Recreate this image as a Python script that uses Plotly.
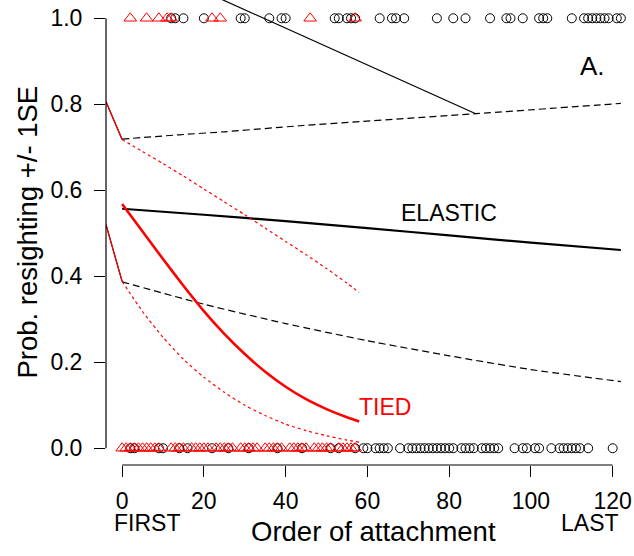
import plotly.graph_objects as go

# ---------------- data ----------------
x_ticks = [0, 20, 40, 60, 80, 100, 120]
y_ticks = [0.0, 0.2, 0.4, 0.6, 0.8, 1.0]
y_tick_text = ["0.0", "0.2", "0.4", "0.6", "0.8", "1.0"]

# observed resightings (1 = resighted, 0 = not)
tied_seen = [2, 6, 9, 11, 12, 22, 24, 46, 57]
tied_missed = [0, 1, 2, 3, 4, 5, 6, 7, 8, 9, 12, 13, 14, 15, 17, 18, 19, 20, 21, 23, 24,
               25, 26, 27, 29, 30, 31, 32, 33, 35, 36, 37, 38, 39, 41, 42, 43, 44, 45,
               47, 48, 49, 50, 51, 53, 54, 55, 56, 57]
elastic_seen = [12, 13, 15, 20, 29, 30, 36, 39, 40, 52, 53, 55, 56, 57, 63, 66, 67, 69,
                77, 81, 84, 90, 94, 95, 98, 102, 103, 104, 110, 113, 114, 115, 116, 117,
                118, 119, 121, 122]
elastic_missed = [2, 3, 9, 10, 14, 16, 22, 26, 31, 38, 44, 51, 53, 57, 59, 60, 62, 63, 64,
                  65, 68, 70, 71, 72, 73, 74, 75, 76, 77, 78, 79, 80, 81, 83, 84, 85, 86,
                  88, 89, 90, 91, 92, 96, 98, 99, 101, 102, 105, 107, 108, 109, 110, 111,
                  112, 114, 120]

# ELASTIC fitted probability and +/- 1SE
el_x = [0, 20, 40, 60, 80, 100, 122]
el_fit = [0.557, 0.543, 0.528, 0.512, 0.495, 0.478, 0.461]
el_hi_x = [0, 14, 25, 43.5, 86.5, 122]
el_hi = [0.719, 0.729, 0.736, 0.750, 0.778, 0.802]
el_lo = [0.387, 0.335, 0.290, 0.250, 0.215, 0.183, 0.155]

# TIED fitted probability and +/- 1SE
ti_x = [0, 5, 10, 15, 20, 25, 30, 35, 40, 45, 50, 55, 58]
ti_fit = [0.568, 0.504, 0.440, 0.378, 0.319, 0.266, 0.219, 0.178, 0.143, 0.114, 0.091,
          0.072, 0.062]
ti_hi = [0.718, 0.690, 0.662, 0.633, 0.603, 0.573, 0.543, 0.512, 0.481, 0.450, 0.418,
         0.384, 0.362]
ti_lo = [0.388, 0.318, 0.258, 0.207, 0.165, 0.130, 0.100, 0.076, 0.056, 0.041, 0.029,
         0.019, 0.014]

# segments drawn left of the first attachment (start of SE bands)
pre_x = [-3.94, 0]
pre_hi = [0.806, 0.718]
pre_lo = [0.520, 0.388]

# stray solid line reaching the upper ELASTIC band
stray_x = [-3.94, 86.5]
stray_y = [1.165, 0.778]

RED = "#FF0000"
BLK = "#000000"
FONT = "Liberation Sans, Arial, sans-serif"

fig = go.Figure()


def line(x, y, color, width, dash="solid"):
    fig.add_trace(go.Scatter(x=x, y=y, mode="lines", showlegend=False, hoverinfo="skip",
                             line=dict(color=color, width=width, dash=dash, shape="spline",
                                       smoothing=0.6)))


# black (ELASTIC)
line(pre_x, pre_hi, BLK, 1.2)
line(pre_x, pre_lo, BLK, 1.2)
line(stray_x, stray_y, BLK, 1.2)
line(el_hi_x, el_hi, BLK, 1.2, "7px,4px")
line(el_x, el_lo, BLK, 1.2, "7px,4px")
line(el_x, el_fit, BLK, 2.2)
# red (TIED)
line(pre_x, pre_hi, RED, 1.2)
line(pre_x, pre_lo, RED, 1.2)
line(ti_x, ti_hi, RED, 1.2, "dot")
line(ti_x, ti_lo, RED, 1.2, "dot")
line(ti_x, ti_fit, RED, 2.6)

# points
circ = dict(symbol="circle-open", size=9, color=BLK, line=dict(width=1))
tri = dict(symbol="triangle-up-open", size=11, color=RED, line=dict(width=1))
fig.add_trace(go.Scatter(x=elastic_seen, y=[1] * len(elastic_seen), mode="markers",
                         showlegend=False, cliponaxis=False, marker=circ))
fig.add_trace(go.Scatter(x=elastic_missed, y=[0] * len(elastic_missed), mode="markers",
                         showlegend=False, cliponaxis=False, marker=circ))
fig.add_trace(go.Scatter(x=tied_seen, y=[1] * len(tied_seen), mode="markers",
                         showlegend=False, cliponaxis=False, marker=tri))
fig.add_trace(go.Scatter(x=tied_missed, y=[0] * len(tied_missed), mode="markers",
                         showlegend=False, cliponaxis=False, marker=tri))

# axis lines spanning first to last tick (R style)
fig.add_shape(type="line", xref="x", yref="paper", x0=x_ticks[0], x1=x_ticks[-1], y0=0, y1=0,
              line=dict(color=BLK, width=1.2))
fig.add_shape(type="line", xref="paper", yref="y", x0=0, x1=0, y0=y_ticks[0], y1=y_ticks[-1],
              line=dict(color=BLK, width=1.2))

# labels
fig.add_annotation(x=80, y=0.548, text="ELASTIC", showarrow=False,
                   font=dict(family=FONT, size=23, color=BLK))
fig.add_annotation(x=64.3, y=0.096, text="TIED", showarrow=False,
                   font=dict(family=FONT, size=23, color=RED))
fig.add_annotation(x=115, y=0.889, text="A.", showarrow=False,
                   font=dict(family=FONT, size=26, color=BLK))
fig.add_annotation(x=-2.45, xanchor="left", yref="paper", y=-0.1247, yanchor="middle",
                   text="FIRST", showarrow=False, font=dict(family=FONT, size=23, color=BLK))
fig.add_annotation(x=122, xanchor="right", yref="paper", y=-0.1247, yanchor="middle",
                   text="LAST", showarrow=False, font=dict(family=FONT, size=23, color=BLK))
fig.add_annotation(x=61.5, xanchor="center", yref="paper", y=-0.142, yanchor="middle",
                   text="Order of attachment", showarrow=False,
                   font=dict(family=FONT, size=27.5, color=BLK))
fig.add_annotation(xref="paper", x=-0.1516, xanchor="center", yref="paper", y=0.5,
                   yanchor="middle", text="Prob. resighting +/- 1SE", textangle=-90,
                   showarrow=False, font=dict(family=FONT, size=27.5, color=BLK))

fig.update_layout(
    width=634, height=556,
    margin=dict(l=106, r=7, t=0, b=91),
    paper_bgcolor="white", plot_bgcolor="white",
    font=dict(family=FONT, size=23, color=BLK),
    xaxis=dict(range=[-3.94, 123.5], tickmode="array", tickvals=x_ticks,
               ticktext=[str(v) for v in x_ticks], ticks="outside", ticklen=11,
               tickwidth=1.2, tickcolor=BLK, showgrid=False, zeroline=False,
               showline=False, ticklabelstandoff=4, tickfont=dict(size=23)),
    yaxis=dict(range=[-0.039, 1.0425], tickmode="array", tickvals=y_ticks,
               ticktext=y_tick_text, ticks="outside", ticklen=11, tickwidth=1.2,
               tickcolor=BLK, showgrid=False, zeroline=False, showline=False,
               ticklabelstandoff=7, tickfont=dict(size=23)),
)

fig.write_html("out.html", config={"displayModeBar": False},
               post_script="document.body.style.margin='0';")
